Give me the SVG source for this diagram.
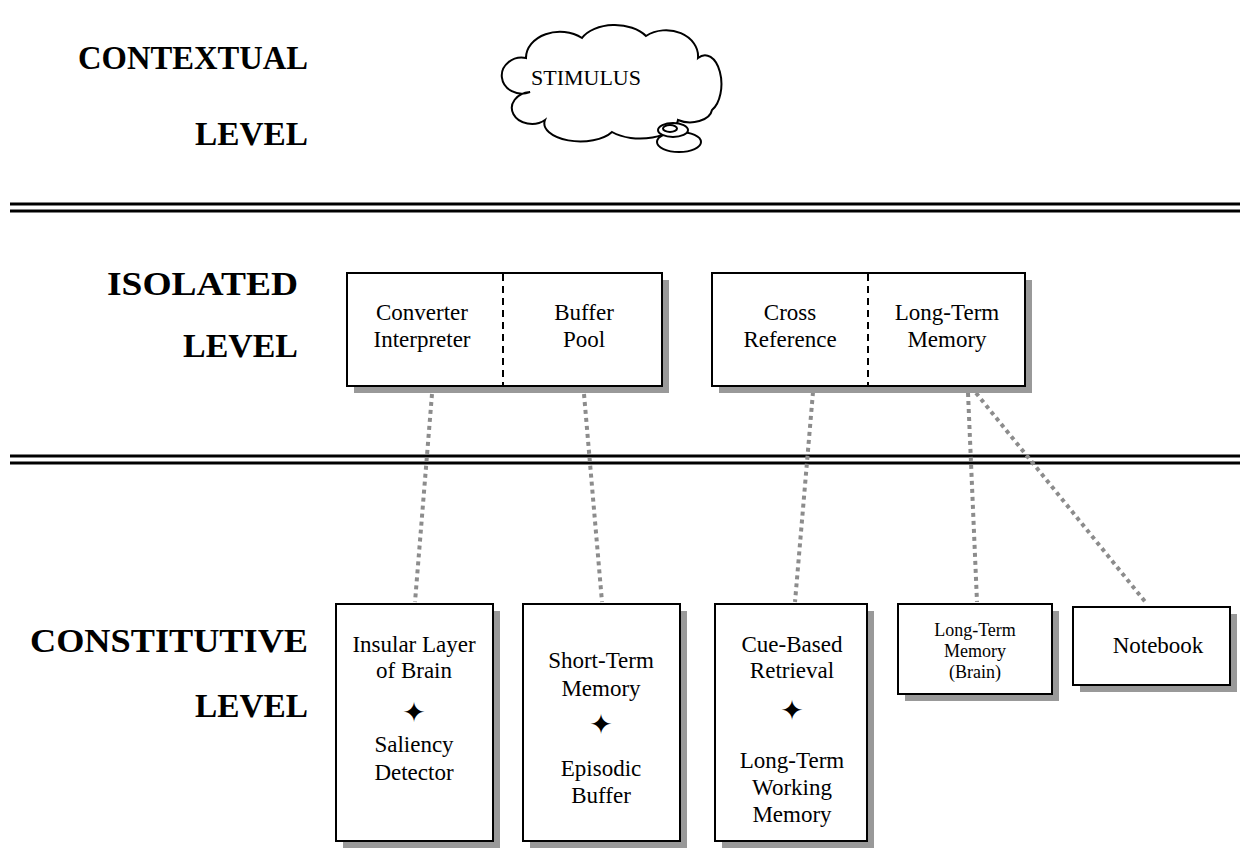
<svg xmlns="http://www.w3.org/2000/svg" width="1252" height="854" viewBox="0 0 1252 854">
  <style>
    .lvl { font-family: "Liberation Serif", "Times New Roman", serif; font-weight: bold; font-size: 34px; fill: #000; text-anchor: end; }
    .txt { font-family: "Liberation Serif", "Times New Roman", serif; font-size: 23px; fill: #000; text-anchor: middle; }
    .sm { font-family: "Liberation Serif", "Times New Roman", serif; font-size: 18px; fill: #000; text-anchor: middle; }
    .star { font-family: "DejaVu Sans", sans-serif; font-size: 28px; fill: #000; text-anchor: middle; }
    .box { fill: #fff; stroke: #000; stroke-width: 2; }
    .shadow { fill: #999; stroke: none; }
    .divider { stroke: #000; stroke-width: 2; stroke-dasharray: 7 5; }
    .rule { stroke: #000; stroke-width: 3; }
    .link { stroke: #8c8c8c; stroke-width: 4; stroke-dasharray: 4 4; fill: none; }
    .cloud { fill: #fff; stroke: #000; stroke-width: 2; }
  </style>

  <!-- level labels -->
  <g id="labels">
    <text class="lvl" x="308" y="69" textLength="230" lengthAdjust="spacingAndGlyphs">CONTEXTUAL</text>
    <text class="lvl" x="308" y="145" textLength="113" lengthAdjust="spacingAndGlyphs">LEVEL</text>
    <text class="lvl" x="298" y="295" textLength="191" lengthAdjust="spacingAndGlyphs">ISOLATED</text>
    <text class="lvl" x="298" y="357" textLength="115" lengthAdjust="spacingAndGlyphs">LEVEL</text>
    <text class="lvl" x="308" y="652" textLength="278" lengthAdjust="spacingAndGlyphs">CONSTITUTIVE</text>
    <text class="lvl" x="308" y="717" textLength="113" lengthAdjust="spacingAndGlyphs">LEVEL</text>
  </g>

  <!-- double rules separating the levels -->
  <g id="rules">
    <line class="rule" x1="10" y1="204" x2="1240" y2="204"/>
    <line class="rule" x1="10" y1="211" x2="1240" y2="211"/>
    <line class="rule" x1="10" y1="456" x2="1240" y2="456"/>
    <line class="rule" x1="10" y1="463" x2="1240" y2="463"/>
  </g>

  <!-- stimulus cloud -->
  <g id="stimulus">
    <path class="cloud" d="M 526 58 A 34 26 0 0 1 582 38 A 36 22 0 0 1 646 36 A 32 26 0 0 1 698 58 A 16 28 0 0 1 712 110 A 22 14 0 0 1 678 120 A 38 20 0 0 1 612 132 A 36 18 0 0 1 545 120 A 20 16 0 1 1 530 92 A 20 18 0 1 1 526 58 Z"/>
    <ellipse class="cloud" cx="679" cy="142" rx="22" ry="10"/>
    <ellipse class="cloud" cx="673" cy="130" rx="15" ry="7"/>
    <ellipse class="cloud" cx="670" cy="128.5" rx="7" ry="3.5"/>
    <text class="txt" x="586" y="85" style="font-size:22px">STIMULUS</text>
  </g>

  <!-- connectors -->
  <g id="connectors">
    <line class="link" x1="432" y1="394" x2="415" y2="602"/>
    <line class="link" x1="584" y1="394" x2="602" y2="602"/>
    <line class="link" x1="813" y1="392" x2="795" y2="602"/>
    <line class="link" x1="968" y1="393" x2="977" y2="602"/>
    <line class="link" x1="976" y1="393" x2="1147" y2="604"/>
  </g>

  <!-- isolated level -->
  <g id="iso-left">
    <rect class="shadow" x="354" y="280" width="315" height="113"/>
    <rect class="box" x="347" y="273" width="315" height="113"/>
    <line class="divider" x1="503" y1="274" x2="503" y2="385"/>
    <text class="txt" x="422" y="320">Converter</text>
    <text class="txt" x="422" y="347">Interpreter</text>
    <text class="txt" x="584" y="320">Buffer</text>
    <text class="txt" x="584" y="347">Pool</text>
  </g>
  <g id="iso-right">
    <rect class="shadow" x="719" y="280" width="313" height="113"/>
    <rect class="box" x="712" y="273" width="313" height="113"/>
    <line class="divider" x1="868" y1="274" x2="868" y2="385"/>
    <text class="txt" x="790" y="320">Cross</text>
    <text class="txt" x="790" y="347">Reference</text>
    <text class="txt" x="947" y="320">Long-Term</text>
    <text class="txt" x="947" y="347">Memory</text>
  </g>

  <!-- constitutive level -->
  <g id="insular">
    <rect class="shadow" x="343" y="611" width="157" height="237"/>
    <rect class="box" x="336" y="604" width="157" height="237"/>
    <text class="txt" x="414" y="652">Insular Layer</text>
    <text class="txt" x="414" y="678">of Brain</text>
    <text class="star" x="414" y="722">✦</text>
    <text class="txt" x="414" y="752">Saliency</text>
    <text class="txt" x="414" y="780">Detector</text>
  </g>
  <g id="short-term">
    <rect class="shadow" x="530" y="611" width="157" height="237"/>
    <rect class="box" x="523" y="604" width="157" height="237"/>
    <text class="txt" x="601" y="668">Short-Term</text>
    <text class="txt" x="601" y="696">Memory</text>
    <text class="star" x="601" y="734">✦</text>
    <text class="txt" x="601" y="776">Episodic</text>
    <text class="txt" x="601" y="803">Buffer</text>
  </g>
  <g id="cue-based">
    <rect class="shadow" x="722" y="611" width="152" height="237"/>
    <rect class="box" x="715" y="604" width="152" height="237"/>
    <text class="txt" x="792" y="652">Cue-Based</text>
    <text class="txt" x="792" y="678">Retrieval</text>
    <text class="star" x="792" y="720">✦</text>
    <text class="txt" x="792" y="768">Long-Term</text>
    <text class="txt" x="792" y="795">Working</text>
    <text class="txt" x="792" y="822">Memory</text>
  </g>
  <g id="ltm-brain">
    <rect class="shadow" x="905" y="611" width="154" height="90"/>
    <rect class="box" x="898" y="604" width="154" height="90"/>
    <text class="sm" x="975" y="636">Long-Term</text>
    <text class="sm" x="975" y="657">Memory</text>
    <text class="sm" x="975" y="678">(Brain)</text>
  </g>
  <g id="notebook">
    <rect class="shadow" x="1080" y="614" width="157" height="78"/>
    <rect class="box" x="1073" y="607" width="157" height="78"/>
    <text class="txt" x="1158" y="653">Notebook</text>
  </g>
</svg>
